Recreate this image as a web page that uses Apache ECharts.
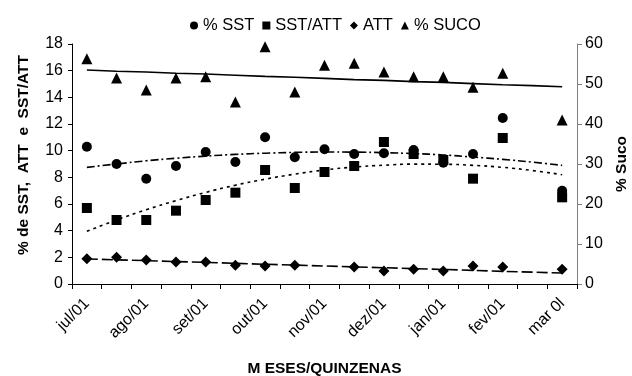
<!DOCTYPE html>
<html>
<head>
<meta charset="utf-8">
<script src="https://cdn.jsdelivr.net/npm/echarts@6/dist/echarts.min.js"></script>
<style>html,body{margin:0;padding:0;background:#fff}#c{width:632px;height:376px}</style>
</head>
<body>
<div id="c"></div>
<script>
// Month labels (one per month, first fortnight); second fortnights unlabeled
var monthLabels = ['jul/01','ago/01','set/01','out/01','nov/01','dez/01','jan/01','fev/01','mar 0l'];
// Observed values per fortnight (17 fortnights)
var sst    = [10.3, 9.0, 7.9, 8.85, 9.9, 9.15, 11.0, 9.5, 10.1, 9.75, 9.8, 10.05, 9.1, 9.75, 12.45, null, 7.0];
var sstAtt = [5.7, 4.8, 4.8, 5.5, 6.3, 6.85, 8.55, 7.2, 8.4, 8.85, 10.65, 9.75, 9.3, 7.9, 10.95, null, 6.5];
var att    = [1.9, 2.0, 1.8, 1.65, 1.65, 1.4, 1.35, 1.4, null, 1.27, 0.98, 1.1, 0.98, 1.35, 1.27, null, 1.1];
var suco   = [56.3, 51.5, 48.5, 51.5, 51.8, 45.5, 59.3, 48.0, 54.7, 55.2, 53.0, 51.8, 51.8, 49.2, 52.7, null, 41.0];
// Trend lines
var sstTrend    = [8.75, 9.0, 9.24, 9.43, 9.59, 9.72, 9.81, 9.87, 9.9, 9.89, 9.85, 9.78, 9.68, 9.52, 9.35, 9.14, 8.9];
var sstAttTrend = [3.95, 4.8, 5.57, 6.25, 6.87, 7.41, 7.86, 8.24, 8.55, 8.77, 8.91, 8.99, 8.98, 8.9, 8.75, 8.51, 8.2];
var attTrend    = [1.88, 1.81, 1.75, 1.68, 1.62, 1.55, 1.48, 1.42, 1.35, 1.28, 1.22, 1.15, 1.09, 1.02, 0.95, 0.89, 0.82];
var sucoTrend   = [53.5, 53.2, 53.0, 52.7, 52.5, 52.2, 51.9, 51.7, 51.4, 51.1, 50.9, 50.6, 50.4, 50.1, 49.8, 49.6, 49.3];
// Axis ticks
var leftTicks = {min: 0, max: 18, interval: 2};
var rightTicks = {min: 0, max: 60, interval: 10};

var categories = [];
for (var k = 0; k < sst.length; k++) {
  categories.push(k % 2 === 0 ? monthLabels[k / 2] : monthLabels[(k - 1) / 2] + ' (2)');
}
function clean(a) { return a.map(function (v) { return v === null ? '-' : v; }); }

var FONT = 'Liberation Sans, Arial, sans-serif';
var chart = echarts.init(document.getElementById('c'), null, {renderer: 'canvas'});
var lineBase = {type: 'line', showSymbol: false, symbol: 'none', silent: true, z: 1};
var mark = {color: '#000', opacity: 1};
chart.setOption({
  animation: false,
  textStyle: {fontFamily: FONT, color: '#000'},
  legend: {
    top: 12, left: 185,
    data: [
      {name: '% SST', icon: 'circle'},
      {name: 'SST/ATT', icon: 'rect'},
      {name: 'ATT', icon: 'diamond'},
      {name: '% SUCO', icon: 'triangle'}
    ],
    itemWidth: 8, itemHeight: 8, itemGap: 8,
    textStyle: {fontFamily: FONT, fontSize: 16.5, color: '#000'}
  },
  grid: {left: 72, right: 55, top: 44, bottom: 92, containLabel: false, outerBoundsMode: 'none'},
  xAxis: {
    type: 'category', data: categories, boundaryGap: true,
    name: 'M ESES/QUINZENAS', nameLocation: 'middle', nameGap: 77,
    nameTextStyle: {fontFamily: FONT, fontSize: 15.5, fontWeight: 'bold', color: '#000'},
    axisLine: {lineStyle: {color: '#000', width: 1}},
    axisTick: {show: true, interval: 0, length: 5, lineStyle: {color: '#000'}},
    axisLabel: {
      interval: function (i) { return i % 2 === 0; },
      rotate: 45, margin: 17, fontSize: 16, color: '#000', fontFamily: FONT
    },
    splitLine: {show: false}
  },
  yAxis: [
    {
      type: 'value', min: leftTicks.min, max: leftTicks.max, interval: leftTicks.interval,
      name: '% de SST,  ATT  e  SST/ATT', nameLocation: 'middle', nameGap: 40, nameRotate: 90,
      nameTextStyle: {fontFamily: FONT, fontSize: 15.5, fontWeight: 'bold', color: '#000', padding: [0, 0, 0, 18]},
      axisLine: {show: true, lineStyle: {color: '#000', width: 1}},
      axisTick: {show: true, length: 4, lineStyle: {color: '#000'}},
      axisLabel: {fontSize: 16, color: '#000', margin: 9, fontFamily: FONT},
      splitLine: {show: false}
    },
    {
      type: 'value', min: rightTicks.min, max: rightTicks.max, interval: rightTicks.interval,
      position: 'right',
      name: '% Suco', nameLocation: 'middle', nameGap: 37, nameRotate: 90,
      nameTextStyle: {fontFamily: FONT, fontSize: 15.5, fontWeight: 'bold', color: '#000'},
      axisLine: {show: true, lineStyle: {color: '#808080', width: 1}},
      axisTick: {show: true, length: 5, lineStyle: {color: '#808080'}},
      axisLabel: {fontSize: 16, color: '#000', margin: 8, fontFamily: FONT},
      splitLine: {show: false}
    }
  ],
  series: [
    Object.assign({}, lineBase, {name: 'tSST', data: sstTrend, smooth: true,
      lineStyle: {color: '#000', width: 1.6, type: [8, 3, 2, 3]}}),
    Object.assign({}, lineBase, {name: 'tSSTATT', data: sstAttTrend, smooth: true,
      lineStyle: {color: '#000', width: 1.6, type: [3, 4]}}),
    Object.assign({}, lineBase, {name: 'tATT', data: attTrend,
      lineStyle: {color: '#000', width: 1.6, type: [11, 4]}}),
    Object.assign({}, lineBase, {name: 'tSUCO', data: sucoTrend, yAxisIndex: 1,
      lineStyle: {color: '#000', width: 1.6, type: 'solid'}}),
    {name: '% SST', type: 'scatter', data: clean(sst), symbol: 'circle', symbolSize: 10,
      itemStyle: mark, z: 3},
    {name: 'SST/ATT', type: 'scatter', data: clean(sstAtt), symbol: 'rect', symbolSize: 10,
      itemStyle: mark, z: 3},
    {name: 'ATT', type: 'scatter', data: clean(att), symbol: 'diamond', symbolSize: [11, 11],
      itemStyle: mark, z: 3},
    {name: '% SUCO', type: 'scatter', data: clean(suco), yAxisIndex: 1, symbol: 'triangle', symbolSize: 11,
      itemStyle: mark, z: 3}
  ]
});
</script>
</body>
</html>
